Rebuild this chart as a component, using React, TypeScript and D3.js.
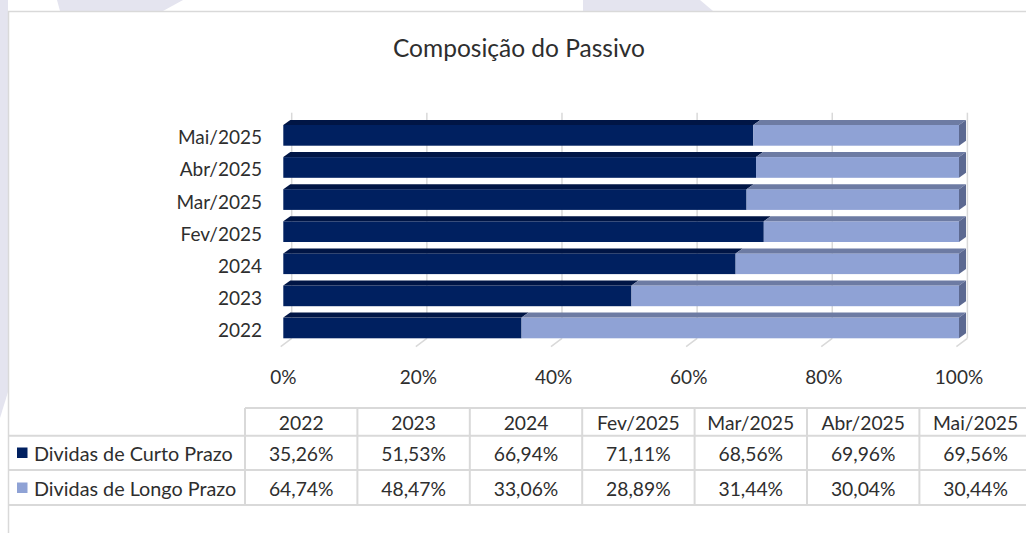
import React from "react";
import * as d3 from "d3";

const categories = ["2022", "2023", "2024", "Fev/2025", "Mar/2025", "Abr/2025", "Mai/2025"];
const curtoPrazo = [35.26, 51.53, 66.94, 71.11, 68.56, 69.96, 69.56];
const longoPrazo = [64.74, 48.47, 33.06, 28.89, 31.44, 30.04, 30.44];
const seriesNames = ["Dividas de Curto Prazo", "Dividas de Longo Prazo"];
const xTicks = [0, 20, 40, 60, 80, 100];
const fmt = (v: number) => v.toFixed(2).replace(".", ",") + "%";

const W = 1026;
const H = 533;
const FONT = "Lato, 'Open Sans', sans-serif";
const TXT = "#2e2e2e";
const GRID = "#d9d9d9";

const DARK = { front: "#002060", top: "#001545", side: "#00173f" };
const LIGHT = { front: "#8fa2d5", top: "#6d7ba3", side: "#5c6991" };

export default function App() {
  const x = d3.scaleLinear().domain([0, 100]).range([283.3, 959]);
  const topDown = [...categories].reverse();
  const y = d3
    .scaleBand<string>()
    .domain(topDown)
    .range([119.3, 344])
    .paddingInner(0.355)
    .paddingOuter(0.1775);
  const bw = y.bandwidth();
  const dx = 7;
  const dy = -5;
  const wallDx = 8.4;
  const floorY = 338.3;
  const wallTop = 112.7;
  const floorFront = 346.7;

  const seg = (x0: number, x1: number, yy: number, c: typeof DARK, side: boolean, key: string) => (
    <g key={key}>
      <rect x={x0} y={yy} width={x1 - x0} height={bw} fill={c.front} />
      <polygon
        points={`${x0},${yy} ${x1},${yy} ${x1 + dx},${yy + dy} ${x0 + dx},${yy + dy}`}
        fill={c.top}
      />
      {side && (
        <polygon
          points={`${x1},${yy} ${x1 + dx},${yy + dy} ${x1 + dx},${yy + bw + dy} ${x1},${yy + bw}`}
          fill={c.side}
        />
      )}
    </g>
  );

  // table geometry
  const tX0 = 245;
  const colW = 112.4;
  const rowTop = 408;
  const rowLines = [435.7, 470, 505];
  const col = d3.scaleBand<string>().domain(categories).range([tX0, tX0 + colW * categories.length]);
  const rowCenters = [422, 453, 488];

  return (
    <svg width={W} height={H} style={{ position: "absolute", left: 0, top: 0 }} fontFamily={FONT}>
      <rect x={0} y={0} width={W} height={H} fill="#ffffff" />
      {/* background watermark pieces */}
      <polygon points="57,0 183,0 163,11 60,11" fill="#e4e4ef" />
      <polygon points="583,0 700,0 713,11 583,11" fill="#e4e4ef" />
      <polygon points="0,0 8,0 8,392 0,418" fill="#e4e4ef" />
      {/* frame */}
      <rect x={8.5} y={11.5} width={W + 10} height={H + 10} fill="#ffffff" stroke={GRID} strokeWidth={1.5} />

      {/* title */}
      <text x={519} y={47} textAnchor="middle" dominantBaseline="central" fontSize={24.5} fill={TXT}>
        Composição do Passivo
      </text>

      {/* gridlines: back wall + floor */}
      {xTicks.map((t) => (
        <g key={"g" + t}>
          <line x1={x(t) + wallDx} x2={x(t) + wallDx} y1={wallTop} y2={floorY} stroke={GRID} strokeWidth={1.5} />
          <line x1={x(t) + wallDx} x2={x(t) - 2.6} y1={floorY} y2={floorFront} stroke={GRID} strokeWidth={1.5} />
        </g>
      ))}

      {/* bars */}
      {categories.map((c, i) => {
        const yy = y(c)!;
        const split = curtoPrazo[i];
        const total = curtoPrazo[i] + longoPrazo[i];
        return (
          <g key={c}>
            {seg(x(0), x(split), yy, DARK, false, "d")}
            {seg(x(split), x(total), yy, LIGHT, true, "l")}
          </g>
        );
      })}

      {/* y labels */}
      {categories.map((c) => (
        <text key={"yl" + c} x={262} y={y(c)! + bw / 2 + 1.5} textAnchor="end" dominantBaseline="central" fontSize={19} fill={TXT}>
          {c}
        </text>
      ))}

      {/* x labels */}
      {xTicks.map((t) => (
        <text key={"xl" + t} x={x(t)} y={376} textAnchor="middle" dominantBaseline="central" fontSize={19} fill={TXT}>
          {t}%
        </text>
      ))}

      {/* data table */}
      <line x1={tX0} x2={W} y1={rowTop} y2={rowTop} stroke={GRID} strokeWidth={2} />
      {rowLines.map((ly) => (
        <line key={"rl" + ly} x1={8} x2={W} y1={ly} y2={ly} stroke={GRID} strokeWidth={2} />
      ))}
      {categories.map((c) => (
        <line key={"cl" + c} x1={col(c)!} x2={col(c)!} y1={rowTop} y2={rowLines[2]} stroke={GRID} strokeWidth={2} />
      ))}
      {categories.map((c) => (
        <text key={"th" + c} x={col(c)! + colW / 2} y={rowCenters[0]} textAnchor="middle" dominantBaseline="central" fontSize={19.3} fill={TXT}>
          {c}
        </text>
      ))}
      {[curtoPrazo, longoPrazo].map((vals, r) => (
        <g key={"row" + r}>
          <rect x={17} y={rowCenters[r + 1] - 5.5} width={10.5} height={10.5} fill={r === 0 ? DARK.front : LIGHT.front} />
          <text x={34} y={rowCenters[r + 1]} dominantBaseline="central" fontSize={19.8} fill={TXT}>
            {seriesNames[r]}
          </text>
          {vals.map((v, i) => (
            <text key={i} x={col(categories[i])! + colW / 2} y={rowCenters[r + 1]} textAnchor="middle" dominantBaseline="central" fontSize={19.3} fill={TXT}>
              {fmt(v)}
            </text>
          ))}
        </g>
      ))}
    </svg>
  );
}
